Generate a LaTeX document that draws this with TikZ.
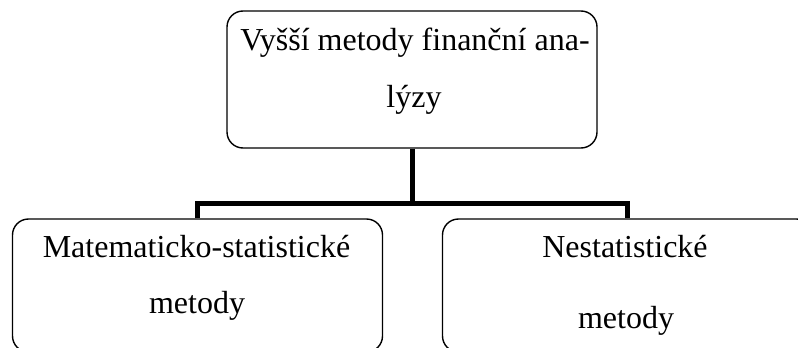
\documentclass[tikz,border=0pt]{standalone}
\usepackage{fontspec}
\setmainfont{Liberation Serif}
\begin{document}
\begin{tikzpicture}[x=1pt, y=-1pt,
        box/.style={draw, rounded corners=16pt, line width=1.4pt, minimum width=370pt, inner sep=0pt},
        link/.style={line width=5pt},
        txt/.style={anchor=base, inner sep=0pt, font=\fontsize{32}{38}\selectfont}]
        \useasboundingbox (0, 0) rectangle (798, 348);
        \clip (0, 0) rectangle (798, 348);
        \node[box, minimum height=137pt] (top) at (412, 79.5) {};
        \node[box, minimum height=133pt] (left) at (197.5, 285.5) {};
        \node[box, minimum height=133pt] (right) at (627.5, 285.5) {};
        \node[txt] (topa) at (415, 50) {Vyšší metody finanční ana-};
        \node[txt] (topb) at (414, 107) {lýzy};
        \node[txt] (lefta) at (196.5, 257) {Matematicko-statistické};
        \node[txt] (leftb) at (197, 313) {metody};
        \node[txt] (righta) at (625, 257) {Nestatistické};
        \node[txt] (rightb) at (626, 328) {metody};
        % connectors
        \coordinate (junc) at (412, 203);
        \draw[link] (top.south) -- (junc);
        \draw[link] (left.north) |- (junc) -| (right.north);
    \end{tikzpicture}
\end{document}
